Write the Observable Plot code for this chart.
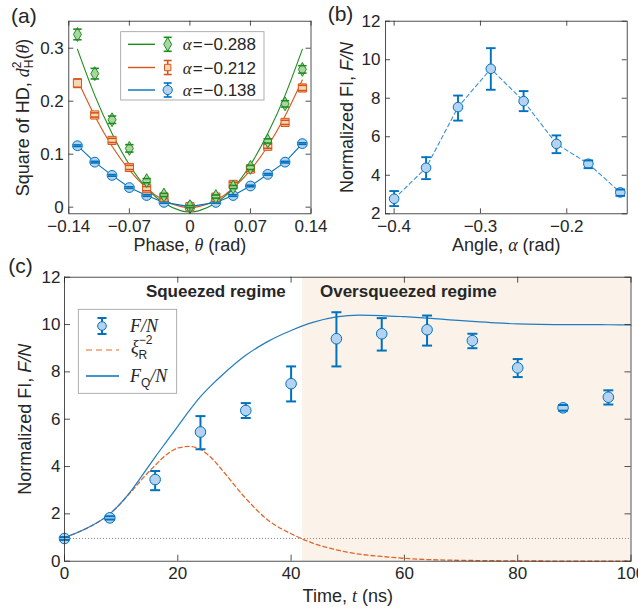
<!DOCTYPE html>
<html><head><meta charset="utf-8">
<script src="https://cdn.jsdelivr.net/npm/d3@7"></script>
<script src="https://cdn.jsdelivr.net/npm/@observablehq/plot@0.6"></script>
<style>
body{margin:0;background:#fff;}
#wrap{position:relative;width:638px;height:609px;overflow:hidden;background:#fff;}
#wrap svg{position:absolute;overflow:visible;max-width:none;}
</style></head><body><div id="wrap"></div>
<script>
// ---------------- DATA ----------------
// Panel (a): square of Hellinger distance vs phase
const phase = [-0.13,-0.11,-0.09,-0.07,-0.05,-0.03,0,0.03,0.05,0.07,0.09,0.11,0.13];
const hdGreen = [0.326,0.252,0.165,0.111,0.050,0.023,0.001,0.020,0.038,0.075,0.125,0.195,0.260];
const hdGreenErr = [0.010,0.010,0.007,0.007,0.004,0.003,0.002,0.003,0.003,0.004,0.004,0.006,0.007];
const hdOrange = [0.234,0.174,0.126,0.075,0.035,0.019,0.001,0.019,0.043,0.072,0.115,0.160,0.225];
const hdOrangeErr = [0.008,0.004,0.004,0.004,0.004,0.003,0.002,0.003,0.004,0.004,0.004,0.004,0.005];
const hdBlue = [0.116,0.085,0.060,0.037,0.022,0.009,0.001,0.009,0.022,0.040,0.062,0.085,0.120];
const hdBlueErr = [0.0015,0.0015,0.0015,0.0015,0.0015,0.0015,0.0015,0.0015,0.0015,0.0015,0.0015,0.0015,0.0015];
const fitPhase = [-0.13,-0.11,-0.09,-0.07,-0.05,-0.03,-0.01,0,0.01,0.03,0.05,0.07,0.09,0.11,0.13];
const fitGreen = [0.298,0.211,0.139,0.080,0.036,0.008,-0.007,-0.009,-0.007,0.008,0.036,0.080,0.139,0.211,0.298];
const fitOrange = [0.240,0.172,0.115,0.070,0.036,0.013,0.001,0,0.001,0.013,0.036,0.070,0.115,0.172,0.240];
const alphaLabels = ["−0.288","−0.212","−0.138"];
const aXTicks = [-0.14,-0.07,0,0.07,0.14];
const aXTickLabels = ["−0.14","−0.07","0","0.07","0.14"];
const aYTicks = [0,0.1,0.2,0.3];
const aYTickLabels = ["0","0.1","0.2","0.3"];

// Panel (b): normalized FI vs angle
const angle = [-0.400,-0.363,-0.326,-0.288,-0.250,-0.212,-0.175,-0.138];
const fiB = [2.78,4.39,7.54,9.53,7.85,5.63,4.60,3.11];
const fiBLo = [2.40,3.80,6.84,8.44,7.33,5.15,4.37,2.93];
const fiBHi = [3.18,4.94,8.14,10.60,8.37,6.07,4.77,3.26];
const bXTicks = [-0.4,-0.3,-0.2];
const bXTickLabels = ["−0.4","−0.3","−0.2"];
const bYTicks = [2,4,6,8,10,12];

// Panel (c): normalized FI vs time
const time = [0,8,16,24,32,40,48,56,64,72,80,88,96];
const fiC = [0.96,1.83,3.45,5.46,6.37,7.50,9.40,9.61,9.78,9.32,8.17,6.48,6.93];
const fiCLo = [0.90,1.76,3.00,4.73,6.05,6.75,8.23,8.90,9.11,9.00,7.78,6.36,6.62];
const fiCHi = [1.02,1.90,3.81,6.13,6.68,8.23,10.52,10.27,10.38,9.61,8.54,6.60,7.22];
const fqT = [0,4,8,12,14,16,18,20,22,24,26,28,32,36,40,44,48,52,56,60,64,68,72,76,80,84,88,92,96,100];
const fqN = [1.0,1.4,2.0,3.05,3.72,4.4,5.05,5.7,6.35,6.95,7.45,7.9,8.7,9.3,9.75,10.1,10.32,10.4,10.38,10.33,10.27,10.2,10.13,10.07,10.03,10.01,10.0,10.0,9.99,9.98];
const xiT = [0,4,8,12,14,16,18,20,22,24,26,28,32,36,40,44,48,52,56,60,64,68,72,76,80,84,88,92,96,100];
const xiR = [1.0,1.4,2.0,3.0,3.55,4.05,4.5,4.78,4.85,4.72,4.35,3.8,2.65,1.72,1.16,0.75,0.48,0.3,0.2,0.12,0.07,0.045,0.03,0.02,0.012,0.008,0.005,0.003,0.002,0.001];
const sqlLevel = 0.96;
const oversqueezedStart = 42;
const cXTicks = [0,20,40,60,80,100];
const cYTicks = [0,2,4,6,8,10,12];

// ---------------- STYLE ----------------
const FONT = "Liberation Sans, Arial, Helvetica, sans-serif";
const SERIF = "Liberation Serif, Times New Roman, serif";
const INK = "#262626";
const BLUE = "#0072BD", BLUE_F = "#b5d2f0";
const ORANGE = "#D95319", ORANGE_F = "#f6d7b3";
const GREEN = "#1f8c1f", GREEN_F = "#a8d6a0";
const FS = 17;

const wrap = document.getElementById("wrap");
function place(svg, left, top) { svg.style.left = left + "px"; svg.style.top = top + "px"; wrap.appendChild(svg); }

const capSymbol = { draw(ctx, size) { const w = Math.sqrt(size / Math.PI); ctx.moveTo(-w, 0); ctx.lineTo(w, 0); } };

function inTicks(xt, yt, innerW, innerH, len = 5) {
  return [
    Plot.tickX(xt, {x: d => d, insetTop: innerH - len, stroke: INK, strokeWidth: 0.8}),
    Plot.tickX(xt, {x: d => d, insetBottom: innerH - len, stroke: INK, strokeWidth: 0.8}),
    Plot.tickY(yt, {y: d => d, insetRight: innerW - len, stroke: INK, strokeWidth: 0.8}),
    Plot.tickY(yt, {y: d => d, insetLeft: innerW - len, stroke: INK, strokeWidth: 0.8})
  ];
}
function errMarks(rows, color, fill, symbol, r, capR, sw = 1.8) {
  return [
    Plot.ruleX(rows, {x: "x", y1: "lo", y2: "hi", stroke: color, strokeWidth: sw}),
    Plot.dot(rows, {x: "x", y: "y", r, symbol, fill, stroke: color, strokeWidth: 1}),
    Plot.dot(rows, {x: "x", y: "lo", r: capR, symbol: capSymbol, fill: "none", stroke: color, strokeWidth: sw}),
    Plot.dot(rows, {x: "x", y: "hi", r: capR, symbol: capSymbol, fill: "none", stroke: color, strokeWidth: sw})
  ];
}
function fmtMap(ticks, labels) { return d => labels[ticks.indexOf(d)] ?? String(d); }

const it = (s, fam = SERIF) => `<tspan font-family="${fam}" font-style="italic">${s}</tspan>`;
const RICH = {
  "@ylabA": `Square of HD, ${it("d")}<tspan font-size="12" dy="-8">2</tspan><tspan font-size="12" dx="-6.7" dy="12">H</tspan><tspan dy="-4">(</tspan>${it("θ")})`,
  "@xlabA": `Phase, ${it("θ")} (rad)`,
  "@ylabB": `Normalized FI, ${it("F/N", FONT)}`,
  "@xlabB": `Angle, ${it("α")} (rad)`,
  "@ylabC": `Normalized FI, ${it("F/N", FONT)}`,
  "@xlabC": `Time, ${it("t")} (ns)`
};
function enrich(svg) {
  svg.querySelectorAll("text").forEach(t => { const k = t.textContent; if (RICH[k]) t.innerHTML = RICH[k]; });
}
function baseStyle() { return {fontFamily: FONT, fontSize: FS + "px", color: INK, background: "transparent", overflow: "visible"}; }
const labelOpts = {fontSize: 18, textAnchor: "middle", lineAnchor: "middle"};

// ---------------- PANEL (a) ----------------
{
  const w = 320, h = 250, ml = 68.3, mr = 9.5, mt = 20.7, mb = 36.7;
  const iw = w - ml - mr, ih = h - mt - mb;
  const mk = (ys, es) => phase.map((x, i) => ({x, y: ys[i], lo: ys[i] - es[i], hi: ys[i] + es[i]}));
  const gRows = mk(hdGreen, hdGreenErr), oRows = mk(hdOrange, hdOrangeErr), bRows = mk(hdBlue, hdBlueErr);
  const svg = Plot.plot({
    width: w, height: h, marginLeft: ml, marginRight: mr, marginTop: mt, marginBottom: mb,
    style: baseStyle(),
    x: {domain: [-0.14, 0.14]},
    y: {domain: [-0.0125, 0.351]},
    marks: [
      Plot.line(fitPhase.map((x, i) => ({x, y: fitOrange[i]})), {x: "x", y: "y", stroke: ORANGE, strokeWidth: 1.1, curve: "natural"}),
      Plot.line(fitPhase.map((x, i) => ({x, y: fitGreen[i]})), {x: "x", y: "y", stroke: GREEN, strokeWidth: 1.1, curve: "natural"}),
      Plot.line(bRows, {x: "x", y: "y", stroke: BLUE, strokeWidth: 1.1}),
      ...errMarks(bRows, BLUE, BLUE_F, "circle", 4.9, 4.2, 1.6),
      ...errMarks(oRows, ORANGE, ORANGE_F, "square", 4.6, 4.2, 1.6),
      ...errMarks(gRows, GREEN, GREEN_F, "diamond", 4.2, 4.2, 1.6),
      ...inTicks(aXTicks, aYTicks, iw, ih),
      Plot.frame({stroke: INK, strokeWidth: 0.8}),
      Plot.axisX(aXTicks, {tickSize: 0, tickPadding: 6, tickFormat: fmtMap(aXTicks, aXTickLabels), fontSize: FS, label: null}),
      Plot.axisY(aYTicks, {tickSize: 0, tickPadding: 5, tickFormat: fmtMap(aYTicks, aYTickLabels), fontSize: FS, label: null}),
      Plot.text(["@xlabA"], {frameAnchor: "bottom", dy: 31, ...labelOpts}),
      Plot.text(["@ylabA"], {frameAnchor: "left", dx: -46, rotate: -90, ...labelOpts}),
      Plot.text(["(a)"], {frameAnchor: "top-left", dx: -45, dy: -5, fontSize: 21, textAnchor: "middle", lineAnchor: "middle"})
    ]
  });
  enrich(svg);
  // legend
  const g = d3.select(svg).append("g").attr("font-family", FONT).attr("font-size", FS).attr("fill", INK).attr("text-anchor", "start");
  g.append("rect").attr("x", 120.7).attr("y", 31.7).attr("width", 143.3).attr("height", 68.3)
    .attr("fill", "white").attr("stroke", "#9a9a9a").attr("stroke-width", 0.8);
  const items = [
    {y: 44.3, c: GREEN, f: GREEN_F, s: d3.symbolDiamond, sz: Math.PI * 4.2 * 4.2, lab: alphaLabels[0]},
    {y: 67.5, c: ORANGE, f: ORANGE_F, s: d3.symbolSquare, sz: Math.PI * 3.6 * 3.6, lab: alphaLabels[1]},
    {y: 90, c: BLUE, f: BLUE_F, s: d3.symbolCircle, sz: Math.PI * 4.6 * 4.6, lab: alphaLabels[2]}
  ];
  for (const it2 of items) {
    g.append("line").attr("x1", 128).attr("x2", 155).attr("y1", it2.y).attr("y2", it2.y).attr("stroke", it2.c).attr("stroke-width", 1.4);
    const mx = 167.7;
    g.append("line").attr("x1", mx).attr("x2", mx).attr("y1", it2.y - 7).attr("y2", it2.y + 7).attr("stroke", it2.c).attr("stroke-width", 1.6);
    g.append("path").attr("d", d3.symbol(it2.s, it2.sz)()).attr("transform", `translate(${mx},${it2.y})`).attr("fill", it2.f).attr("stroke", it2.c);
    for (const dy of [-7, 7]) g.append("line").attr("x1", mx - 4).attr("x2", mx + 4).attr("y1", it2.y + dy).attr("y2", it2.y + dy).attr("stroke", it2.c).attr("stroke-width", 1.6);
    g.append("text").attr("x", 182.7).attr("y", it2.y + 6).html(`<tspan font-family="${SERIF}" font-style="italic">α</tspan><tspan dx="1">=</tspan><tspan dx="1">${it2.lab}</tspan>`);
  }
  place(svg, 0, 0);
}

// ---------------- PANEL (b) ----------------
{
  const w = 318, h = 250, ml = 65, mr = 11.3, mt = 20.7, mb = 36.7;
  const iw = w - ml - mr, ih = h - mt - mb;
  const rows = angle.map((x, i) => ({x, y: fiB[i], lo: fiBLo[i], hi: fiBHi[i]}));
  const svg = Plot.plot({
    width: w, height: h, marginLeft: ml, marginRight: mr, marginTop: mt, marginBottom: mb,
    style: baseStyle(),
    x: {domain: [-0.41, -0.13]},
    y: {domain: [2, 12]},
    marks: [
      Plot.line(rows, {x: "x", y: "y", stroke: "#3c8fd6", strokeWidth: 1.1, strokeDasharray: "4,3"}),
      ...errMarks(rows, BLUE, BLUE_F, "circle", 4.8, 4.8, 1.9),
      ...inTicks(bXTicks, bYTicks, iw, ih),
      Plot.frame({stroke: INK, strokeWidth: 0.8}),
      Plot.axisX(bXTicks, {tickSize: 0, tickPadding: 6, tickFormat: fmtMap(bXTicks, bXTickLabels), fontSize: FS, label: null}),
      Plot.axisY(bYTicks, {tickSize: 0, tickPadding: 5, fontSize: FS, label: null}),
      Plot.text(["@xlabB"], {frameAnchor: "bottom", dy: 31, ...labelOpts}),
      Plot.text(["@ylabB"], {frameAnchor: "left", dx: -38.5, rotate: -90, ...labelOpts}),
      Plot.text(["(b)"], {frameAnchor: "top-left", dx: -45, dy: -7, fontSize: 21, textAnchor: "middle", lineAnchor: "middle"})
    ]
  });
  enrich(svg);
  place(svg, 320, 0);
}

// ---------------- PANEL (c) ----------------
{
  const w = 638, h = 359, ml = 64, mr = 7.5, mt = 26.7, mb = 48.3;
  const iw = w - ml - mr, ih = h - mt - mb;
  const rows = time.map((x, i) => ({x, y: fiC[i], lo: fiCLo[i], hi: fiCHi[i]}));
  const fqCurve = fqT.map((t, i) => ({t, v: fqN[i]}));
  const xiCurve = xiT.map((t, i) => ({t, v: xiR[i]}));
  const svg = Plot.plot({
    width: w, height: h, marginLeft: ml, marginRight: mr, marginTop: mt, marginBottom: mb,
    style: baseStyle(),
    x: {domain: [0, 100]},
    y: {domain: [0, 12]},
    marks: [
      Plot.rect([{x1: oversqueezedStart, x2: 100}], {x1: "x1", x2: "x2", fill: "#fbf3e9"}),
      Plot.ruleY([sqlLevel], {stroke: "#6a6a6a", strokeWidth: 0.8, strokeDasharray: "1,2"}),
      Plot.line(xiCurve, {x: "t", y: "v", stroke: "#e0662a", strokeWidth: 1.3, strokeDasharray: "4,3", curve: "monotone-x"}),
      Plot.line(fqCurve, {x: "t", y: "v", stroke: "#1f7cc4", strokeWidth: 1.2, curve: "monotone-x"}),
      ...errMarks(rows, BLUE, BLUE_F, "circle", 5.3, 5, 2),
      ...inTicks(cXTicks, cYTicks, iw, ih, 6),
      Plot.frame({stroke: INK, strokeWidth: 0.8}),
      Plot.axisX(cXTicks, {tickSize: 0, tickPadding: 6, fontSize: FS, label: null}),
      Plot.axisY(cYTicks, {tickSize: 0, tickPadding: 4, fontSize: FS, label: null}),
      Plot.text(["Squeezed regime"], {frameAnchor: "top-left", dx: 151.3, dy: 19.3, textAnchor: "middle", lineAnchor: "bottom", fontSize: 17, fontWeight: "bold"}),
      Plot.text(["Oversqueezed regime"], {frameAnchor: "top-left", dx: 343.8, dy: 19.3, textAnchor: "middle", lineAnchor: "bottom", fontSize: 17, fontWeight: "bold"}),
      Plot.text(["@xlabC"], {frameAnchor: "bottom", dy: 35, ...labelOpts}),
      Plot.text(["@ylabC"], {frameAnchor: "left", dx: -39, rotate: -90, ...labelOpts}),
      Plot.text(["(c)"], {frameAnchor: "top-left", dx: -44, dy: -11, fontSize: 21, textAnchor: "middle", lineAnchor: "middle"})
    ]
  });
  enrich(svg);
  const g = d3.select(svg).append("g").attr("font-size", 18).attr("fill", INK).attr("text-anchor", "start");
  g.append("rect").attr("x", 78.3).attr("y", 59.3).attr("width", 98.4).attr("height", 84)
    .attr("fill", "white").attr("stroke", "#9a9a9a").attr("stroke-width", 0.8);
  // F/N entry
  const mx = 102, y1 = 76;
  g.append("line").attr("x1", mx).attr("x2", mx).attr("y1", y1 - 8).attr("y2", y1 + 8).attr("stroke", BLUE).attr("stroke-width", 2);
  for (const dy of [-8, 8]) g.append("line").attr("x1", mx - 4.5).attr("x2", mx + 4.5).attr("y1", y1 + dy).attr("y2", y1 + dy).attr("stroke", BLUE).attr("stroke-width", 2);
  g.append("circle").attr("cx", mx).attr("cy", y1).attr("r", 4.3).attr("fill", BLUE_F).attr("stroke", BLUE);
  g.append("text").attr("x", 130).attr("y", y1 + 6).attr("font-family", SERIF).attr("font-style", "italic").text("F/N");
  // xi entry
  const y2 = 100;
  g.append("line").attr("x1", 86).attr("x2", 119).attr("y1", y2).attr("y2", y2).attr("stroke", "#ee9a6c").attr("stroke-width", 1.4).attr("stroke-dasharray", "6,4");
  g.append("text").attr("x", 131).attr("y", y2 + 3).attr("font-family", SERIF)
    .html(`<tspan font-style="italic">ξ</tspan><tspan font-family="${FONT}" font-size="12" dy="-9">−2</tspan><tspan font-family="${FONT}" font-size="12" dx="-14" dy="15">R</tspan>`);
  // FQ entry
  const y3 = 126;
  g.append("line").attr("x1", 86).attr("x2", 119).attr("y1", y3).attr("y2", y3).attr("stroke", BLUE).attr("stroke-width", 1.6);
  g.append("text").attr("x", 130).attr("y", y3 + 6).attr("font-family", SERIF)
    .html(`<tspan font-style="italic">F</tspan><tspan font-family="${FONT}" font-size="12" dy="5">Q</tspan><tspan font-style="italic" dy="-5">/N</tspan>`);
  place(svg, 0, 250);
}
</script>
</body></html>
